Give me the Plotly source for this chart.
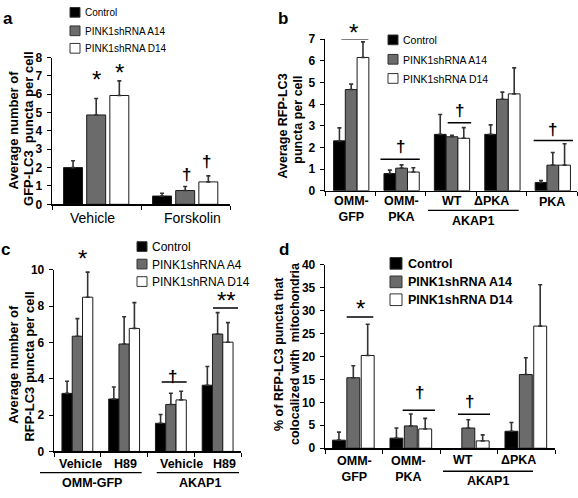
import plotly.graph_objects as go

W, H = 578, 498
FONT = "Liberation Sans, Arial, Helvetica, sans-serif"

series_a = ["Control", "PINK1shRNA A14", "PINK1shRNA D14"]
series_c = ["Control", "PINK1shRNA A4", "PINK1shRNA D14"]

# ---------------- panel a ----------------
a_cats = ["Vehicle", "Forskolin"]
a_ctrl = [2.0, 0.45]
a_ctrl_err = [0.37, 0.15]
a_a14 = [4.87, 0.75]
a_a14_err = [0.9, 0.22]
a_d14 = [5.93, 1.22]
a_d14_err = [0.8, 0.33]
a_ticks = [0, 1, 2, 3, 4, 5, 6, 7, 8]

# ---------------- panel b ----------------
b_cats = ["OMM-GFP", "OMM-PKA", "WT", "ΔPKA", "PKA"]
b_ctrl = [2.3, 0.79, 2.6, 2.6, 0.38]
b_ctrl_err = [0.6, 0.16, 0.92, 0.44, 0.09]
b_a14 = [4.67, 1.04, 2.49, 4.22, 1.18]
b_a14_err = [0.25, 0.15, 0.07, 0.33, 0.58]
b_d14 = [6.15, 0.86, 2.42, 4.47, 1.18]
b_d14_err = [0.72, 0.2, 0.49, 1.2, 0.99]
b_ticks = [0, 1, 2, 3, 4, 5, 6, 7]

# ---------------- panel c ----------------
c_cats = ["OMM-GFP Vehicle", "OMM-GFP H89", "AKAP1 Vehicle", "AKAP1 H89"]
c_ctrl = [3.2, 2.89, 1.55, 3.65]
c_ctrl_err = [0.67, 0.66, 0.49, 1.03]
c_a4 = [6.35, 5.92, 2.59, 6.47]
c_a4_err = [0.97, 1.5, 0.62, 1.18]
c_d14 = [8.5, 6.78, 2.84, 6.02]
c_d14_err = [1.38, 1.42, 0.48, 1.08]
c_ticks = [0, 2, 4, 6, 8, 10]

# ---------------- panel d ----------------
d_cats = ["OMM-GFP", "OMM-PKA", "WT", "ΔPKA"]
d_ctrl = [1.76, 2.2, None, 3.7]
d_ctrl_err = [1.74, 2.2, None, 1.9]
d_a14 = [15.35, 4.86, 4.4, 16.05]
d_a14_err = [2.6, 2.6, 1.8, 3.65]
d_d14 = [20.2, 4.2, 1.6, 26.6]
d_d14_err = [6.8, 2.3, 1.3, 9.0]
d_ticks = [0, 5, 10, 15, 20, 25, 30, 35, 40]

FILLS = ["#000000", "#6b6b6b", "#ffffff"]

# panel geometry in pixels: x-left, x-right, y-bottom, y-top, y-max value
GEOM = {
    "": (52, 230, 203, 52, 8),
    "2": (325, 577, 189, 33, 7),
    "3": (54, 241, 457.3, 270.6, 10),
    "4": (325, 555, 454, 265, 40),
}


def px(x):
    return x / W


def py(y):
    return 1 - y / H


fig = go.Figure()


def add_panel(sfx, cats, vals, errs, names, offsets, width):
    for v, e, n, col, off in zip(vals, errs, names, FILLS, offsets):
        fig.add_trace(go.Bar(
            x=cats, y=v, name=n, showlegend=False,
            xaxis="x" + sfx, yaxis="y" + sfx,
            offset=off, width=width,
            marker=dict(color=col, line=dict(color="#1a1a1a", width=1)),
            error_y=dict(type="data", array=e, arrayminus=[0] * len(e),
                         symmetric=False, color="#333333", thickness=1.6, width=2),
        ))


add_panel("", a_cats, [a_ctrl, a_a14, a_d14], [a_ctrl_err, a_a14_err, a_d14_err],
          series_a, [-0.37, -0.11, 0.15], 0.213)
add_panel("2", b_cats, [b_ctrl, b_a14, b_d14], [b_ctrl_err, b_a14_err, b_d14_err],
          series_a, [-0.33, -0.097, 0.137], 0.233)
add_panel("3", c_cats, [c_ctrl, c_a4, c_d14], [c_ctrl_err, c_a4_err, c_d14_err],
          series_c, [-0.33, -0.11, 0.11], 0.22)
add_panel("4", d_cats, [d_ctrl, d_a14, d_d14], [d_ctrl_err, d_a14_err, d_d14_err],
          series_a, [-0.37, -0.12, 0.13], 0.225)

tickfont = dict(family=FONT, size=12, color="black")


def xax(sfx, ncat):
    x0, x1, _, _, _ = GEOM[sfx]
    return dict(domain=[px(x0), px(x1)], anchor="y" + sfx, type="category",
                range=[-0.5, ncat - 0.5], showline=True, linecolor="black",
                linewidth=1.3, ticks="outside", tickson="boundaries", ticklen=4,
                tickcolor="black", showticklabels=False, showgrid=False,
                zeroline=False, fixedrange=True)


def yax(sfx, ticks):
    _, _, y0, y1, top = GEOM[sfx]
    return dict(domain=[py(y0), py(y1)], anchor="x" + sfx, range=[0, top],
                tickmode="array", tickvals=ticks,
                ticktext=["<b>%d</b>" % t for t in ticks],
                showticklabels=True, ticklabelstandoff=2,
                showline=True, linecolor="black", linewidth=1.3,
                ticks="outside", ticklen=4, tickcolor="black", tickfont=tickfont,
                showgrid=False, zeroline=False, fixedrange=True)


shapes = []
annotations = []


def text(x, y, s, size, bold=False, xanchor="center", angle=0, xref="paper",
         yref="paper", yshift=0):
    annotations.append(dict(
        x=x, y=y, xref=xref, yref=yref, text=s, showarrow=False,
        xanchor=xanchor, yanchor="middle", textangle=angle, yshift=yshift,
        font=dict(family=FONT, size=size, color="black",
                  weight="bold" if bold else "normal")))


def ytitle(lines, xs, ys, size):
    for s, xx, yy in zip(lines, xs, ys):
        text(px(xx), py(yy), s, size, True, angle=-90)


def mark(sfx, x, v, s, size, bold=False):
    """Significance symbol in data units; values above the axis top are
    pinned to the top of the range and lifted with a pixel shift."""
    _, _, y0, y1, top = GEOM[sfx]
    ppu = (y0 - y1) / top
    yy = min(v, top * 0.999)
    text(x, yy, s, size, bold, xref="x" + sfx, yref="y" + sfx,
         yshift=(v - yy) * ppu)


def pline(x0, x1, y, width=1.3):
    shapes.append(dict(type="line", xref="paper", yref="paper",
                       x0=px(x0), x1=px(x1), y0=py(y), y1=py(y),
                       line=dict(color="black", width=width)))


def sigline(sfx, i0, i1, v):
    shapes.append(dict(type="line", xref="x" + sfx, yref="y" + sfx,
                       x0=i0, x1=i1, y0=v, y1=v,
                       line=dict(color="black", width=1.5)))


def legend(x_sq, ys, names, size, bold, sq=10, gap=4):
    for yy, n, col in zip(ys, names, FILLS):
        shapes.append(dict(type="rect", xref="paper", yref="paper",
                           x0=px(x_sq), x1=px(x_sq + sq),
                           y0=py(yy + sq / 2 - 0.5), y1=py(yy - sq / 2 - 0.5),
                           fillcolor=col, line=dict(color="#333333", width=1)))
        text(px(x_sq + sq + gap), py(yy), n, size, bold, xanchor="left")


DAG = "†"

# panel letters
text(px(8), py(12), "a", 17, True)
text(px(283), py(12), "b", 17, True)
text(px(5), py(250), "c", 17, True)
text(px(284), py(250), "d", 17, True)

# ---- panel a decorations ----
ytitle(["Average number of", "GFP-LC3  puncta per cell"], [13, 28.5], [127, 125], 13)
text(px(92), py(217), "Vehicle", 14)
text(px(192), py(217), "Forskolin", 14)
legend(70, [6, 25, 43], series_a, 10, False, sq=10, gap=3)
mark("", 0.0, 6.8, "*", 24)
mark("", 0.26, 7.2, "*", 24)
mark("", 1.01, 1.64, DAG, 17, True)
mark("", 1.24, 2.33, DAG, 17, True)

# ---- panel b decorations ----
ytitle(["Average RFP-LC3", "puncta per cell"], [283, 298], [123, 116], 12.5)
text(px(351.3), py(207.5), "OMM-<br>GFP", 12.5, True)
text(px(401.3), py(207.5), "OMM-<br>PKA", 12.5, True)
text(px(452), py(199.5), "WT", 12.5, True)
text(px(491.3), py(199.5), "ΔPKA", 12.5, True)
text(px(552), py(201), "PKA", 12.5, True)
pline(428, 518.7, 209.3)
text(px(473), py(220), "AKAP1", 12.5, True)
legend(388, [34.3, 54.3, 74], series_a, 10.5, False, sq=10, gap=3)
sigline("2", -0.174, 0.36, 7.01)
sigline("2", 0.6, 1.38, 1.45)
sigline("2", 1.934, 2.4, 3.14)
sigline("2", 3.64, 4.42, 2.32)
mark("2", 0.066, 7.3, "*", 24)
mark("2", 0.99, 2.06, DAG, 17, True)
mark("2", 2.16, 3.72, DAG, 17, True)
mark("2", 4.01, 2.83, DAG, 17, True)

# ---- panel c decorations ----
ytitle(["Average number of", "RFP-LC3 puncta per cell"], [14, 30], [368, 370], 13)
for xx, s in zip([80, 125, 181, 224], ["Vehicle", "H89", "Vehicle", "H89"]):
    text(px(xx), py(470.7), s, 12.5, True)
pline(40, 141.7, 479)
pline(156.7, 239, 479)
text(px(91.7), py(490), "OMM-GFP", 12.5, True)
text(px(200), py(490), "AKAP1", 12.5, True)
legend(137, [247, 265, 283], series_c, 12, False, sq=10, gap=3)
sigline("3", -0.1, 0.426, 10.08)
sigline("3", 1.804, 2.338, 3.83)
sigline("3", 2.901, 3.436, 7.9)
mark("3", 0.1, 10.6, "*", 24)
mark("3", 2.045, 4.15, DAG, 17, True)
mark("3", 3.194, 8.3, "**", 24)

# ---- panel d decorations ----
ytitle(["% of RFP-LC3 puncta that", "colocalized with  mitochondria"],
       [279, 295], [357, 357], 12.5)
text(px(354.7), py(475), "OMM-<br>GFP", 12.5, True)
text(px(408), py(475), "OMM-<br>PKA", 12.5, True)
text(px(463), py(466), "WT", 12.5, True)
text(px(518), py(466), "ΔPKA", 12.5, True)
pline(443, 533, 477.7)
text(px(488), py(488), "AKAP1", 12.5, True)
legend(390, [264.3, 283.3, 301.7], series_a, 12.5, True, sq=12, gap=4)
sigline("4", -0.123, 0.34, 28.6)
sigline("4", 0.851, 1.413, 8.25)
sigline("4", 1.813, 2.37, 7.4)
mark("4", 0.121, 30.5, "*", 24)
mark("4", 1.143, 12.06, DAG, 17, True)
mark("4", 2.02, 10.26, DAG, 17, True)

fig.update_layout(
    width=W, height=H, margin=dict(l=0, r=0, t=0, b=0),
    paper_bgcolor="white", plot_bgcolor="white",
    barmode="overlay", showlegend=False,
    xaxis=xax("", len(a_cats)),
    yaxis=yax("", a_ticks),
    xaxis2=xax("2", len(b_cats)),
    yaxis2=yax("2", b_ticks),
    xaxis3=xax("3", len(c_cats)),
    yaxis3=yax("3", c_ticks),
    xaxis4=xax("4", len(d_cats)),
    yaxis4=yax("4", d_ticks),
    shapes=shapes, annotations=annotations,
    font=dict(family=FONT, color="black"),
)

fig.write_html("out.html",
               config={"displayModeBar": False, "staticPlot": True},
               post_script="document.body.style.margin='0px';"
                           "document.body.style.padding='0px';")
